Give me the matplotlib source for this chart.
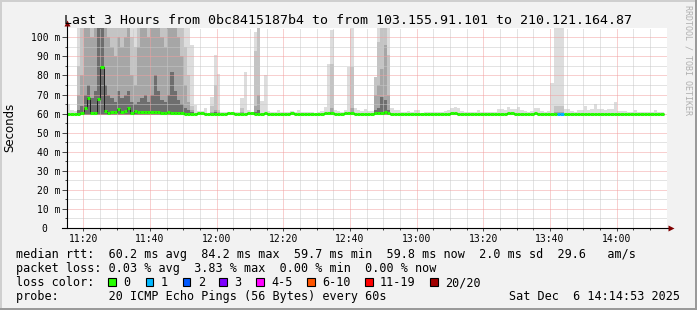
import numpy as np
import matplotlib
matplotlib.use('Agg')
import matplotlib.pyplot as plt
from matplotlib.patches import Rectangle

W, H = 697, 310  # output size in pixels

# time axis: minutes after 11:00, one sample per minute (60s step)
start_min = 15.1
x_ticks = [20, 40, 60, 80, 100, 120, 140, 160, 180]
x_tick_labels = ['11:20', '11:40', '12:00', '12:20', '12:40', '13:00', '13:20', '13:40', '14:00']
y_ticks = [0, 10, 20, 30, 40, 50, 60, 70, 80, 90, 100]
y_tick_labels = ['0  ', '10 m', '20 m', '30 m', '40 m', '50 m', '60 m', '70 m', '80 m', '90 m', '100 m']

# median rtt per minute (ms)
median_ms = [
    59.6, 59.6, 59.6, 60.0, 60.5, 63.0, 68.0, 60.5, 60.5, 67.4,
    84.2, 61.3, 60.3, 60.6, 61.0, 62.3, 60.6, 61.4, 63.2, 60.5,
    61.4, 60.8, 60.8, 60.6, 60.8, 60.6, 60.8, 60.6, 60.4, 60.5,
    60.6, 60.5, 60.4, 60.3, 60.3, 60.0, 60.0, 59.8, 59.8, 60.1,
    60.1, 60.0, 59.9, 59.7, 59.7, 59.7, 59.8, 60.0, 60.1, 60.1,
    60.0, 60.0, 59.9, 60.0, 60.1, 60.1, 60.0, 59.9, 60.0, 60.1,
    60.0, 60.0, 59.9, 59.8, 60.0, 60.0, 60.0, 60.1, 60.0, 60.0,
    59.9, 60.0, 60.0, 60.0, 59.8, 59.8, 60.0, 60.1, 60.2, 60.2,
    60.0, 60.0, 60.0, 60.1, 60.2, 60.2, 60.0, 60.0, 60.0, 60.0,
    60.0, 60.0, 60.1, 60.2, 60.3, 60.8, 60.2, 60.0, 60.0, 60.0,
    60.0, 60.0, 60.0, 60.0, 60.0, 59.9, 59.9, 60.0, 60.0, 60.0,
    60.0, 60.0, 60.0, 60.0, 60.0, 60.1, 60.1, 60.0, 60.0, 59.9,
    60.0, 60.0, 60.0, 60.0, 60.0, 60.0, 60.0, 60.0, 60.0, 60.0,
    60.0, 60.0, 60.1, 60.1, 60.0, 60.0, 60.0, 60.0, 60.0, 60.0,
    60.1, 60.0, 60.0, 60.0, 60.0, 60.0, 59.9, 59.7, 59.7, 60.0,
    60.0, 60.0, 60.0, 59.8, 60.0, 60.0, 60.0, 59.8, 60.0, 60.0,
    60.0, 60.0, 60.0, 60.0, 60.0, 60.0, 59.8, 60.0, 60.0, 60.0,
    60.0, 60.0, 60.0, 60.0, 60.0, 60.0, 60.0, 59.8, 59.8,
]

# slowest ping per minute (top of the smoke, ms)
max_ms = [
    65.0, 62.0, 61.5, 110, 110, 110, 110, 110, 110, 115,
    120, 112, 110, 110, 110, 110, 110, 110, 110, 110,
    108, 110, 110, 110, 110, 110, 112, 110, 110, 110,
    110, 112, 110, 110, 110, 110, 110, 96.0, 64.4, 61.3,
    61.3, 62.8, 60.5, 68.8, 90.6, 81.0, 61.0, 61.0, 61.0, 60.5,
    61.0, 61.0, 68.2, 81.9, 62.0, 61.0, 102.8, 110, 66.5, 80.0,
    61.5, 60.8, 60.8, 62.0, 61.0, 61.0, 61.0, 61.5, 61.0, 62.0,
    61.0, 61.0, 60.8, 60.6, 60.2, 60.8, 61.5, 63.5, 86.0, 103.7,
    62.0, 61.5, 61.0, 62.0, 84.5, 110, 63.0, 62.0, 61.5, 62.5,
    61.5, 61.5, 79.0, 110, 110, 110, 110, 63.0, 62.0, 62.0,
    61.0, 61.0, 61.5, 61.0, 62.0, 62.0, 60.5, 61.0, 61.0, 61.0,
    61.0, 61.0, 61.0, 61.5, 62.0, 62.7, 63.3, 62.7, 61.5, 61.0,
    61.0, 60.8, 61.0, 61.8, 61.0, 61.0, 61.0, 60.8, 61.0, 62.5,
    62.5, 62.0, 63.3, 62.5, 62.5, 63.3, 62.0, 61.5, 61.0, 61.5,
    62.7, 62.7, 61.5, 61.0, 61.5, 76.0, 110, 110, 110, 62.6,
    62.6, 61.5, 61.0, 61.8, 61.8, 63.9, 62.0, 62.5, 64.9, 62.6,
    62.6, 62.0, 62.5, 62.5, 66.0, 61.5, 61.5, 61.5, 61.0, 61.0,
    62.0, 61.0, 61.0, 61.0, 61.0, 61.0, 61.8, 61.0, 61.0,
]
min_ms = 59.3  # fastest pings sit just under the median

# inner smoke bands (upper ping percentiles) where they stand out
band_minutes = [3, 4, 5, 6, 7, 8, 9, 10, 11, 12, 13, 14, 15, 16, 17, 18, 19, 20,
                21, 22, 23, 24, 25, 26, 27, 28, 29, 30, 31, 32, 33, 34, 35, 36, 37,
                43, 44, 45, 52, 56, 57, 79, 85, 92, 93, 94, 95, 96, 146, 147, 148]
band_hi = [85, 110, 110, 110, 110, 110, 110, 120, 110, 110, 110, 105, 110, 110, 110, 110, 100, 95,
           110, 110, 110, 110, 110, 112, 110, 110, 110, 110, 112, 110, 110, 110, 95, 80, 64,
           64, 75, 62, 63, 93, 110, 86, 84.5, 79, 97.5, 110, 110, 90.6, 64, 64, 64]
band_mid = [70, 80, 105, 110, 100, 105, 110, 120, 108, 100, 95, 90, 100, 95, 100, 105, 80, 75,
            95, 105, 108, 100, 110, 110, 110, 100, 95, 108, 110, 110, 100, 90, 75, 66, 62,
            61, 62, 61, 61, 64, 70, 63, 63, 70, 75, 83.6, 95.8, 70, 61, 61, 61]
band_lo = [62, 64, 70, 75, 68, 72, 105, 115, 75, 70, 68, 66, 72, 68, 70, 72, 66, 65,
           66, 68, 70, 66, 70, 80, 72, 67, 66, 70, 82, 72, 67, 65, 63, 62, 61,
           60, 61, 60, 60, 61, 62, 61, 61, 62, 63, 68.7, 67, 62, 60, 60, 60]

# minutes with lost pings (count of 20)
loss_minutes = [147, 148]
loss_counts = [1, 1]

loss_labels = ['0', '1', '2', '3', '4-5', '6-10', '11-19', '20/20']
loss_colors = ['#26ff00', '#00b8ff', '#0059ff', '#7e00ff', '#ff00ff', '#ff5500', '#ff0000', '#a10000']


def loss_index(n):
    if n <= 3:
        return n
    if n <= 5:
        return 4
    if n <= 10:
        return 5
    if n <= 19:
        return 6
    return 7


n = len(median_ms)
edges = start_min + np.arange(n + 1)
med = np.array(median_ms)
top = np.array(max_ms)
hi, mid, lo = med.copy(), med.copy(), med.copy()
for m, a, b, c in zip(band_minutes, band_hi, band_mid, band_lo):
    hi[m], mid[m], lo[m] = a, b, c
seg_colors = [loss_colors[0]] * n
for m, c in zip(loss_minutes, loss_counts):
    seg_colors[m] = loss_colors[loss_index(c)]

mono = 'DejaVu Sans Mono'
bg = '#f2f2f2'
fig = plt.figure(figsize=(W / 100, H / 100), dpi=100, facecolor=bg)


def px_rect(x, y, w, h, **kw):
    r = Rectangle((x / W, 1 - (y + h) / H), w / W, h / H, transform=fig.transFigure, **kw)
    fig.add_artist(r)


# 3d frame
px_rect(0, 0, W, 2, facecolor='#cfcfcf', edgecolor='none')
px_rect(0, 0, 2, H, facecolor='#cfcfcf', edgecolor='none')
px_rect(0, H - 2, W, 2, facecolor='#9a9a9a', edgecolor='none')
px_rect(W - 2, 0, 2, H, facecolor='#9a9a9a', edgecolor='none')

ax = fig.add_axes([67 / W, (H - 228) / H, 600 / W, 200 / H])
ax.set_facecolor('white')
ax.set_xlim(start_min, start_min + 180)
ax.set_ylim(0, 104.9)

# smoke, outer (light) to inner (dark)
for vals, col in [(top, '#dddddd'), (hi, '#c4c4c4'), (mid, '#a6a6a6'), (lo, '#6e6e6e')]:
    ax.fill_between(edges, min_ms, np.append(vals, vals[-1]), step='post',
                    color=col, lw=0, zorder=1)

# median: thin dark step line, then thick loss coloured dashes
ax.stairs(med, edges, baseline=None, color='#202020', lw=0.7, zorder=3)
ax.hlines(med, edges[:-1], edges[1:], colors=seg_colors, lw=2.2, zorder=4)

ax.set_xticks(x_ticks)
ax.set_xticklabels(x_tick_labels)
ax.set_xticks(np.arange(20, 195, 5), minor=True)
ax.set_yticks(y_ticks)
ax.set_yticklabels(y_tick_labels)
ax.set_yticks(np.arange(5, 105, 10), minor=True)
for lab in ax.get_xticklabels() + ax.get_yticklabels():
    lab.set_family(mono)
    lab.set_fontsize(7)
ax.tick_params(axis='x', which='major', length=2.5, width=0.7, pad=1.5, color='#444444')
ax.tick_params(axis='x', which='minor', length=1.5, width=0.7, color='#444444')
ax.tick_params(axis='y', which='major', length=3.5, width=0.7, pad=1.5, color='#444444')
ax.tick_params(axis='y', which='minor', length=1.5, width=0.7, color='#444444')

ax.set_axisbelow(False)
ax.grid(True, which='minor', color='#c8c8c8', lw=0.72, linestyle=(0, (1, 1)))
ax.grid(True, which='major', color='#f2a0a0', lw=0.72, linestyle=(0, (1, 1)))
for s in ax.spines.values():
    s.set_visible(False)

# axis lines with rrdtool style arrows
ax.plot([0, 0], [0, 1.02], color='black', lw=0.8, transform=ax.transAxes, clip_on=False, zorder=5)
ax.plot([-5 / 600, 1.005], [0, 0], color='black', lw=0.8, transform=ax.transAxes, clip_on=False, zorder=5)
ax.plot([0], [1.025], marker='^', ms=4.5, color='#7f0000', mec='none', transform=ax.transAxes, clip_on=False, zorder=6)
ax.plot([1.007], [0], marker='>', ms=4.5, color='#7f0000', mec='none', transform=ax.transAxes, clip_on=False, zorder=6)

fig.text(348 / W, 1 - 24.3 / H, 'Last 3 Hours from 0bc8415187b4 to from 103.155.91.101 to 210.121.164.87',
         family=mono, fontsize=9.5, ha='center', va='baseline')
fig.text(10 / W, 1 - 127 / H, 'Seconds', rotation=90, fontsize=8.5, ha='center', va='center')
fig.text(688 / W, 1 - 60 / H, 'RRDTOOL / TOBI OETIKER', rotation=270, family=mono, fontsize=6,
         color='#b0b0b0', ha='center', va='center')

lx = 15.5
leg = dict(family=mono, fontsize=8.5, va='baseline', ha='left')
fig.text(lx / W, 1 - 258.3 / H,
         'median rtt:  60.2 ms avg  84.2 ms max  59.7 ms min  59.8 ms now  2.0 ms sd  29.6   am/s', **leg)
fig.text(lx / W, 1 - 272.3 / H,
         'packet loss: 0.03 % avg  3.83 % max  0.00 % min  0.00 % now', **leg)
fig.text(lx / W, 1 - 286.3 / H, 'loss color:', **leg)
box_x = [108.3, 145.7, 182.7, 219.3, 256, 307, 365, 430]
for bx, lab, col in zip(box_x, loss_labels, loss_colors):
    px_rect(bx, 278, 7.5, 7.5, facecolor=col, edgecolor='black', lw=0.8)
    fig.text((bx + 15) / W, 1 - 286.3 / H, lab, **leg)
fig.text(lx / W, 1 - 300.3 / H, 'probe:       20 ICMP Echo Pings (56 Bytes) every 60s', **leg)
fig.text(680 / W, 1 - 300.3 / H, 'Sat Dec  6 14:14:53 2025', family=mono, fontsize=8.5,
         va='baseline', ha='right')

fig.savefig('out.png', dpi=100, facecolor=bg)
